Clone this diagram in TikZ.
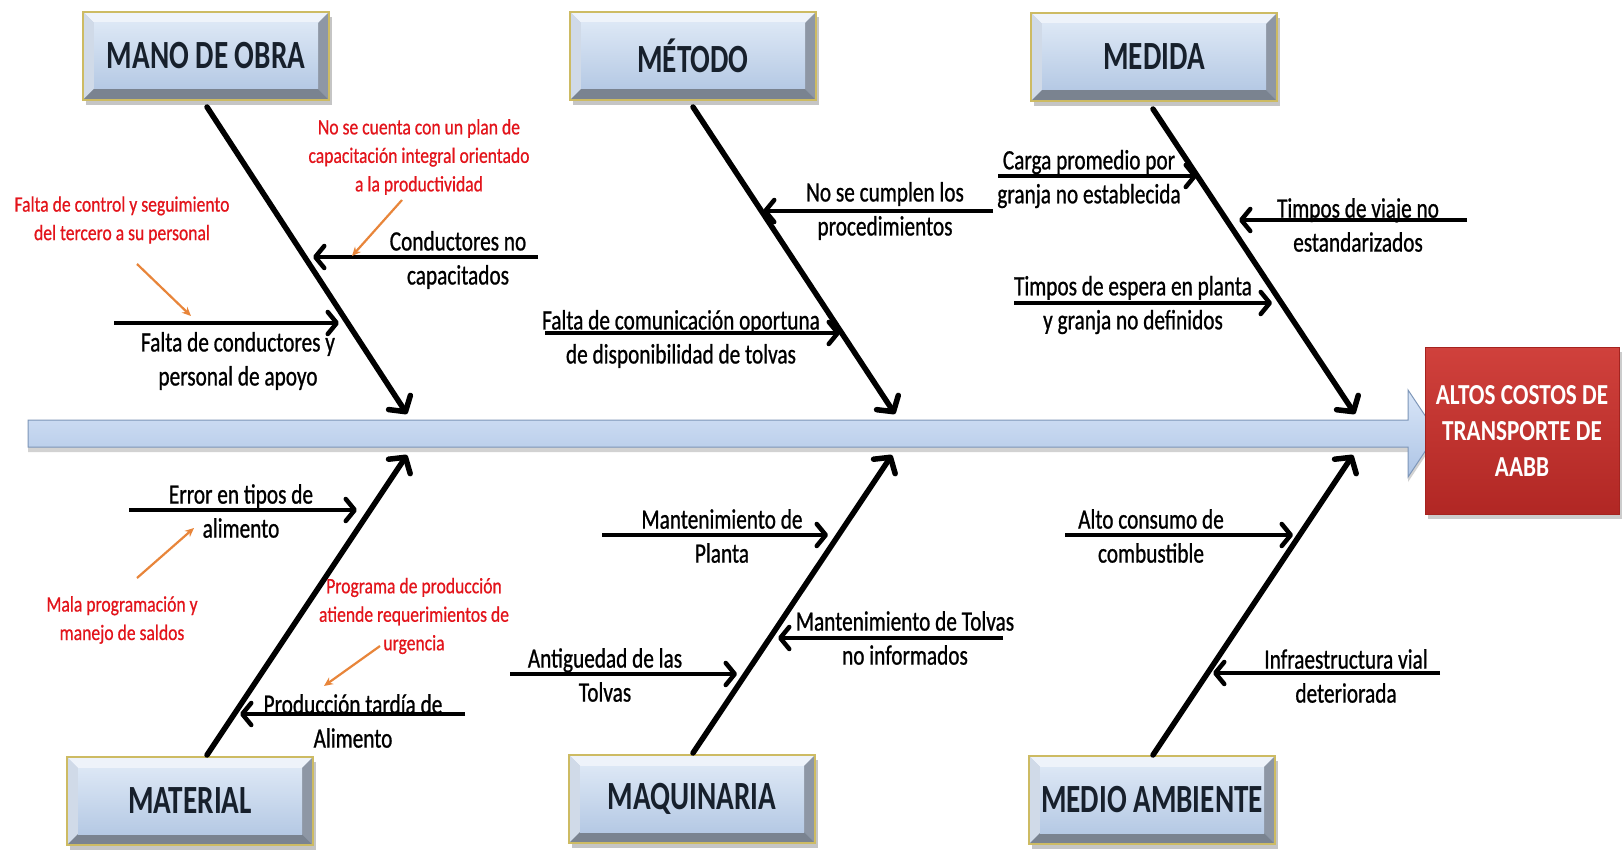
\documentclass[tikz,border=0pt]{standalone}
\usepackage{fontspec}
\setmainfont{Carlito}
\newfontfamily\labfont[FakeStretch=0.76,FakeBold=0.8]{Carlito}
\newfontfamily\catfont[FakeStretch=0.73]{Carlito}
\newfontfamily\notefont[FakeStretch=0.80,FakeBold=0.6]{Carlito}
\newfontfamily\headfont[FakeStretch=0.80]{Carlito}
\usetikzlibrary{arrows.meta,shadows,calc}

\definecolor{faceTop}{HTML}{DCE7F5}
\definecolor{faceBot}{HTML}{B5C9E4}
\definecolor{bevTop}{HTML}{EEF3FA}
\definecolor{bevLeft}{HTML}{D0DAE8}
\definecolor{bevRight}{HTML}{8E97A5}
\definecolor{bevBot}{HTML}{7A8390}
\definecolor{rimGold}{HTML}{CDBB63}
\definecolor{titleInk}{HTML}{17202C}
\definecolor{noteRed}{HTML}{E3141B}
\definecolor{pointer}{HTML}{E8853A}
\definecolor{spineTop}{HTML}{D9E6F8}
\definecolor{spineBot}{HTML}{ADC4E5}
\definecolor{spineEdge}{HTML}{7D96B8}
\definecolor{effTop}{HTML}{D0413C}
\definecolor{effBot}{HTML}{B12724}
\definecolor{effEdge}{HTML}{A5231F}

\tikzset{
  catbox/.style={minimum width=246pt, minimum height=88pt, inner sep=0pt,
    font=\catfont\bfseries\fontsize{40}{44}\selectfont, text=titleInk,
    draw=rimGold, line width=1.2pt, fill=faceBot,
    drop shadow={shadow xshift=3pt, shadow yshift=-5pt, opacity=0.45},
    path picture={
      \coordinate (pnw) at (path picture bounding box.north west);
      \coordinate (pne) at (path picture bounding box.north east);
      \coordinate (psw) at (path picture bounding box.south west);
      \coordinate (pse) at (path picture bounding box.south east);
      \fill[bevTop] (pnw) -- (pne) -- ($(pne)+(-11pt,-11pt)$) -- ($(pnw)+(11pt,-11pt)$) -- cycle;
      \fill[bevLeft] (pnw) -- (psw) -- ($(psw)+(11pt,11pt)$) -- ($(pnw)+(11pt,-11pt)$) -- cycle;
      \fill[bevRight] (pne) -- (pse) -- ($(pse)+(-11pt,11pt)$) -- ($(pne)+(-11pt,-11pt)$) -- cycle;
      \fill[bevBot] (psw) -- (pse) -- ($(pse)+(-11pt,11pt)$) -- ($(psw)+(11pt,11pt)$) -- cycle;
      \shade[top color=faceTop, bottom color=faceBot]
        ($(pnw)+(11pt,-11pt)$) rectangle ($(pse)+(-11pt,11pt)$);
    }},
  effectbox/.style={minimum width=194pt, minimum height=167pt, inner sep=0pt,
    align=center, text=white,
    font=\headfont\bfseries\fontsize{29}{36}\selectfont,
    top color=effTop, bottom color=effBot, draw=effEdge, line width=1pt,
    drop shadow={shadow xshift=3pt, shadow yshift=-5pt, opacity=0.4}},
  lab/.style={align=center, inner sep=0pt, text=black,
    font=\labfont\fontsize{28}{34}\selectfont},
  note/.style={align=center, inner sep=0pt, text=noteRed,
    font=\notefont\fontsize{22}{28.5}\selectfont},
  bone/.style={line width=5.5pt, line cap=round,
    -{Straight Barb[length=11pt, width=26pt, line width=5.5pt, round]}},
  branch/.style={line width=4.5pt,
    -{Straight Barb[length=9pt, width=22pt, line width=4.5pt, round]}},
  pointer/.style={draw=pointer, line width=2.2pt,
    -{Stealth[length=9pt, width=8pt]}},
}

\begin{document}
\begin{tikzpicture}[x=1pt, y=-1pt]
\useasboundingbox[fill=white] (0,0) rectangle (1622,850);

% spine arrow
\path[top color=spineTop, bottom color=spineBot, draw=spineEdge, line width=1pt,
      drop shadow={shadow xshift=0pt, shadow yshift=-5pt, opacity=0.35}]
  (28,420) -- (1408,420) -- (1408,390) -- (1437,433.5) -- (1408,477)
  -- (1408,447) -- (28,447) -- cycle;

% effect
\node[effectbox] (effect) at (1522,430.5) {ALTOS COSTOS DE\\TRANSPORTE DE\\AABB};

% category boxes
\node[catbox] (mano)       at (206,56)   {MANO DE OBRA};
\node[catbox] (metodo)     at (693,56)   {MÉTODO};
\node[catbox] (medida)     at (1154,57)  {MEDIDA};
\node[catbox] (material)   at (190,801)  {MATERIAL};
\node[catbox] (maquinaria) at (692,799)  {MAQUINARIA};
\node[catbox] (medio)      at (1152,800) {MEDIO AMBIENTE};

% bone end points
\coordinate (b1) at (207,107);  \coordinate (s1) at (407,414);
\coordinate (b2) at (693,107);  \coordinate (s2) at (895,414);
\coordinate (b3) at (1153,109); \coordinate (s3) at (1355,414);
\coordinate (b4) at (207,755);  \coordinate (s4) at (407,455);
\coordinate (b5) at (693,753);  \coordinate (s5) at (892,455);
\coordinate (b6) at (1153,755); \coordinate (s6) at (1353,455);

\draw[bone] (b1) -- (s1);
\draw[bone] (b2) -- (s2);
\draw[bone] (b3) -- (s3);
\draw[bone] (b4) -- (s4);
\draw[bone] (b5) -- (s5);
\draw[bone] (b6) -- (s6);

% cause branches
\coordinate (c1a) at (538,257);  \coordinate (c1b) at (313,257);
\coordinate (c2a) at (114,323);  \coordinate (c2b) at (339,323);
\coordinate (c3a) at (993,211);  \coordinate (c3b) at (763,211);
\coordinate (c4a) at (545,333);  \coordinate (c4b) at (840,333);
\coordinate (c5a) at (998,176);  \coordinate (c5b) at (1197,176);
\coordinate (c6a) at (1467,220); \coordinate (c6b) at (1239,220);
\coordinate (c7a) at (1014,303); \coordinate (c7b) at (1272,303);
\coordinate (c8a) at (129,510);  \coordinate (c8b) at (357,510);
\coordinate (c9a) at (465,714);  \coordinate (c9b) at (240,714);
\coordinate (c10a) at (602,535); \coordinate (c10b) at (828,535);
\coordinate (c11a) at (1003,638);\coordinate (c11b) at (778,638);
\coordinate (c12a) at (510,674); \coordinate (c12b) at (737,674);
\coordinate (c13a) at (1065,535);\coordinate (c13b) at (1293,535);
\coordinate (c14a) at (1440,673);\coordinate (c14b) at (1213,673);

\foreach \k in {1,...,14} \draw[branch] (c\k a) -- (c\k b);

% cause labels
\node[lab] (l1)  at (458,260)  {Conductores no\\capacitados};
\node[lab] (l2)  at (238,361)  {Falta de conductores y\\personal de apoyo};
\node[lab] (l3)  at (885,211)  {No se cumplen los\\procedimientos};
\node[lab] (l4)  at (681,339)  {Falta de comunicación oportuna\\de disponibilidad de tolvas};
\node[lab] (l5)  at (1089,179) {Carga promedio por\\granja no establecida};
\node[lab] (l6)  at (1358,225) {Timpos de viaje no\\estandarizados};
\node[lab] (l7)  at (1133,305) {Timpos de espera en planta\\y granja no definidos};
\node[lab] (l8)  at (241,511)  {Error en tipos de\\alimento};
\node[lab] (l9)  at (353,721)  {Producción tardía de\\Alimento};
\node[lab] (l10) at (722,536)  {Mantenimiento de\\Planta};
\node[lab] (l11) at (905,638)  {Mantenimiento de Tolvas\\no informados};
\node[lab] (l12) at (605,675)  {Antiguedad de las\\Tolvas};
\node[lab] (l13) at (1151,536) {Alto consumo de\\combustible};
\node[lab] (l14) at (1346,676) {Infraestructura vial\\deteriorada};

% root-cause notes
\node[note] (n1) at (122,220) {Falta de control y seguimiento\\del tercero a su personal};
\node[note] (n2) at (419,157) {No se cuenta con un plan de\\capacitación integral orientado\\a la productividad};
\node[note] (n3) at (122,620) {Mala programación y\\manejo de saldos};
\node[note] (n4) at (414,616) {Programa de producción\\atiende requerimientos de\\urgencia};

% note pointers
\coordinate (p1a) at (137,264); \coordinate (p1b) at (191,316);
\coordinate (p2a) at (402,200); \coordinate (p2b) at (352,256);
\coordinate (p3a) at (137,578); \coordinate (p3b) at (194,528);
\coordinate (p4a) at (380,646); \coordinate (p4b) at (324,686);
\foreach \k in {1,...,4} \draw[pointer] (p\k a) -- (p\k b);
\end{tikzpicture}
\end{document}
